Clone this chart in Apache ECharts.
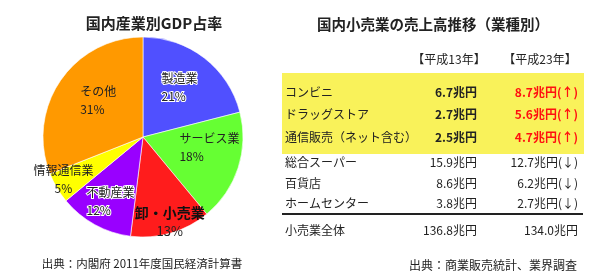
<!DOCTYPE html>
<html>
<head>
<meta charset="utf-8">
<script src="https://cdn.jsdelivr.net/npm/echarts@6/dist/echarts.min.js"></script>
<style>
  html, body { margin: 0; padding: 0; background: #fff; }
  #main { width: 600px; height: 273px; }
</style>
</head>
<body>
<div id="main"></div>
<script>
// left: GDP share by industry (%)
const gdpNames = ["製造業", "サービス業", "卸・小売業", "不動産業", "情報通信業", "その他"];
const gdpShares = [21, 18, 13, 12, 5, 31];
const gdpColors = ["#5050ff", "#66ff33", "#ff1c1c", "#9900ff", "#ffff00", "#ff9900"];

// right: retail sales by store type (兆円)
const yearHeaders = ["【平成13年】", "【平成23年】"];
const storeTypes = ["コンビニ", "ドラッグストア", "通信販売（ネット含む）", "総合スーパー", "百貨店", "ホームセンター"];
const sales2001 = [6.7, 2.7, 2.5, 15.9, 8.6, 3.8];
const sales2011 = [8.7, 5.6, 4.7, 12.7, 6.2, 2.7];
const totalLabel = "小売業全体";
const totalSales = [136.8, 134.0];

// label tweak per slice: dx, dy, align
const labelPos = [
  [-14, -8, "left"],
  [-14, -6, "left"],
  [12, 34, "center"],
  [-31, 18, "left"],
  [-34, 15, "center"],
  [-19, -7, "left"],
];

const font = '"Noto Sans CJK JP", sans-serif';
const chart = echarts.init(document.getElementById("main"));

const rowY = [92, 114, 137, 162, 183, 203];
const col1 = 477, col2 = 578, nameX = 285;

const graphics = [
  { type: "rect", shape: { x: 282, y: 73, width: 302, height: 81 }, style: { fill: "#f9f25a" }, z: 0 },
  { type: "line", shape: { x1: 282, y1: 214, x2: 583, y2: 214 }, style: { stroke: "#222", lineWidth: 2 } },
];
yearHeaders.forEach((h, i) => {
  graphics.push({
    type: "text", x: i ? 540 : 449, y: 59,
    style: { text: h, font: "12px " + font, fill: "#222", align: "center", verticalAlign: "middle" },
  });
});
storeTypes.forEach((s, i) => {
  const hi = i < 3;
  const up = sales2011[i] > sales2001[i];
  graphics.push({
    type: "text", x: nameX, y: rowY[i],
    style: { text: s, font: "12px " + font, fill: "#222", verticalAlign: "middle" },
  });
  graphics.push({
    type: "text", x: col1, y: rowY[i],
    style: { text: sales2001[i].toFixed(1) + "兆円", font: (hi ? "bold " : "") + "12px " + font, fill: "#222", align: "right", verticalAlign: "middle" },
  });
  graphics.push({
    type: "text", x: col2, y: rowY[i],
    style: { text: sales2011[i].toFixed(1) + "兆円" + (up ? "(↑)" : "(↓)"), font: (hi ? "bold " : "") + "12px " + font, fill: hi ? "#ff1010" : "#222", align: "right", verticalAlign: "middle" },
  });
});
graphics.push({ type: "text", x: nameX, y: 230, style: { text: totalLabel, font: "12px " + font, fill: "#222", verticalAlign: "middle" } });
graphics.push({ type: "text", x: col1, y: 230, style: { text: totalSales[0].toFixed(1) + "兆円", font: "12px " + font, fill: "#222", align: "right", verticalAlign: "middle" } });
graphics.push({ type: "text", x: col2, y: 230, style: { text: totalSales[1].toFixed(1) + "兆円", font: "12px " + font, fill: "#222", align: "right", verticalAlign: "middle" } });
graphics.push({ type: "text", x: 577, y: 265, style: { text: "出典：商業販売統計、業界調査", font: "12px " + font, fill: "#222", align: "right", verticalAlign: "middle" } });
graphics.push({ type: "text", x: 142, y: 264, style: { text: "出典：内閣府 2011年度国民経済計算書", font: "11.5px " + font, fill: "#222", align: "center", verticalAlign: "middle" } });

chart.setOption({
  animation: false,
  title: [
    { text: "国内産業別GDP占率", left: 149, top: 11, textAlign: "center",
      textStyle: { fontFamily: font, fontSize: 15, fontWeight: "bold", color: "#222" } },
    { text: "国内小売業の売上高推移（業種別）", left: 312, top: 12,
      textStyle: { fontFamily: font, fontSize: 14.5, fontWeight: "bold", color: "#222" } },
  ],
  graphic: graphics,
  series: [
    {
      type: "pie",
      center: [143, 137],
      radius: 100,
      startAngle: 90,
      clockwise: true,
      itemStyle: { borderColor: "#fff", borderWidth: 0.6 },
      label: {
        show: true,
        position: "inside",
        formatter: "{b}\n{c}%",
        fontFamily: font,
        fontSize: 12,
        lineHeight: 18,
        color: "#222",
      },
      labelLayout: (p) => {
        const l = labelPos[p.dataIndex];
        return { dx: l[0], dy: l[1], align: l[2] };
      },
      data: gdpNames.map((n, i) => {
        const d = { name: n, value: gdpShares[i], itemStyle: { color: gdpColors[i] } };
        if (i === 0 || i === 3) d.label = { textBorderColor: "#fff", textBorderWidth: 2 };
        if (i === 2) d.label = {
          formatter: "{t|{b}}\n{p|{c}%}",
          rich: {
            t: { fontFamily: font, fontSize: 14, fontWeight: "bold", color: "#111", lineHeight: 18 },
            p: { fontFamily: font, fontSize: 13, color: "#222", lineHeight: 18 },
          },
        };
        return d;
      }),
      emphasis: { disabled: true },
    },
  ],
});
</script>
</body>
</html>
